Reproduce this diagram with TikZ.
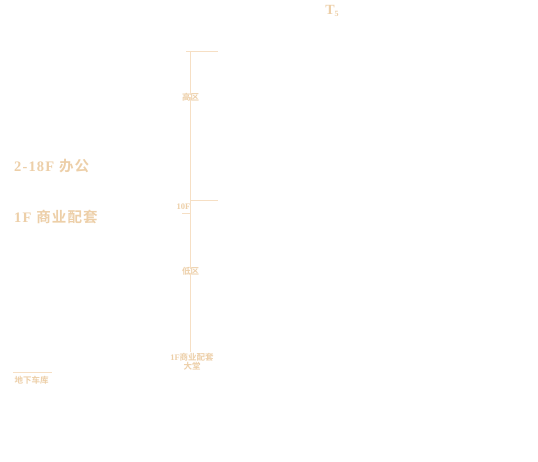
\documentclass[tikz,border=0pt]{standalone}
\usepackage{fontspec}
\setmainfont{Liberation Serif}
\newfontfamily\cjk{Noto Sans CJK SC}[BoldFont={* Bold}]
\newfontfamily\bigser{Liberation Serif}[LetterSpace=8]
\newfontfamily\bigcjk{Noto Sans CJK SC}[BoldFont={* Bold},LetterSpace=8]
\definecolor{beige}{HTML}{EDCFA8}
\definecolor{lbeige}{HTML}{F6DFC4}
\begin{document}
\begin{tikzpicture}[x=1pt,y=-1pt,
  big/.style={text=beige,font=\fontsize{14.5}{16}\selectfont\bfseries,inner sep=0pt},
  small/.style={text=beige,font=\fontsize{8.5}{9.5}\selectfont\bfseries,inner sep=0pt},
  ln/.style={draw=lbeige,line width=0.8pt}]
\useasboundingbox[fill=white] (0,0) rectangle (538,461);
% title
\node[text=beige,font=\fontsize{14}{16}\selectfont\bfseries,inner sep=0pt] (title) at (332,11) {T\raisebox{-0.25ex}{\fontsize{8}{9}\selectfont 5}};
% left labels
\node[big,anchor=west] (office) at (14,166) {\bigser 2-18F {\bigcjk 办公}};
\node[big,anchor=west] (retail) at (14,217) {\bigser 1F {\bigcjk 商业配套}};
\node[small,anchor=west] (garage) at (14.5,380) {\cjk 地下车库};
\coordinate (gl) at (13,372);
\coordinate (gr) at (52,372);
\draw[ln] (gl) -- (gr);
% axis labels
\node[small] (high) at (190.5,97) {\cjk 高区};
\node[small,anchor=east] (f10) at (190.5,207) {10F};
\node[small] (low) at (190.5,271) {\cjk 低区};
\node[small,align=center] (lobby) at (192,362) {1F{\cjk 商业配套}\\[-0.5pt]{\cjk 大堂}};
% axis
\coordinate (top) at (190.5,51);
\coordinate (topl) at (186,51);
\coordinate (topr) at (218,51);
\coordinate (mid) at (190.5,200);
\coordinate (midr) at (218,200);
\coordinate (tickl) at (182,213);
\coordinate (tickr) at (190.5,213);
\coordinate (bot) at (190.5,352);
\draw[ln] (topl) -- (topr);
\draw[ln] (top) -- ([yshift=-2pt]high.north -| top);
\draw[ln] ([yshift=4pt]high.south -| top) -- ([yshift=-2pt]low.north -| top);
\draw[ln] ([yshift=2pt]low.south -| top) -- (bot);
\draw[ln] (mid) -- (midr);
\draw[ln] (tickl) -- (tickr);
\end{tikzpicture}
\end{document}
